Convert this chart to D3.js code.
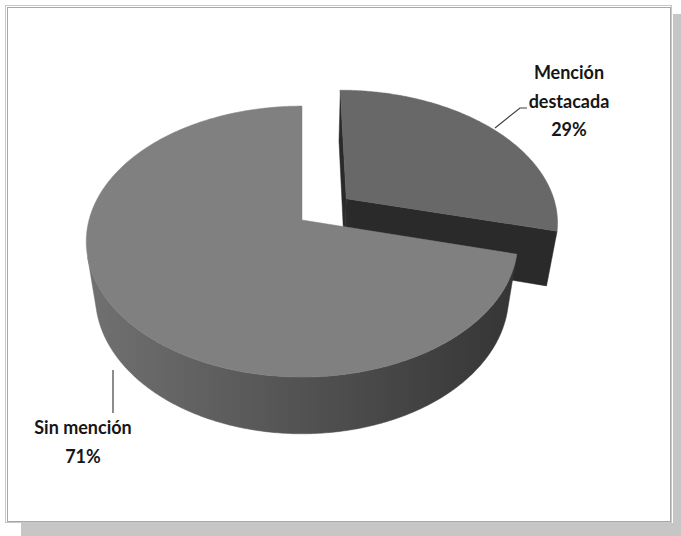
<!DOCTYPE html>
<html>
<head>
<meta charset="utf-8">
<script src="https://d3js.org/d3.v7.min.js"></script>
<style>
  body { margin: 0; background: #fff; }
  text { font-family: Lato, "Liberation Sans", sans-serif; font-weight: bold; fill: #161616; }
</style>
</head>
<body>
<svg id="chart" width="681" height="536"></svg>
<script>
// data
var categories = ["Mención destacada", "Sin mención"];
var values = [29, 71];
var percentLabels = ["29%", "71%"];
var labelLines = [["Mención", "destacada"], ["Sin mención"]];
var explodeBy = [0.27, 0];

var svg = d3.select("#chart");

// frame with shadow
svg.append("rect").attr("x", 21).attr("y", 523).attr("width", 660).attr("height", 13).attr("fill", "#c6c6c6");
svg.append("rect").attr("x", 673).attr("y", 14).attr("width", 8).attr("height", 522).attr("fill", "#c6c6c6");
svg.append("rect").attr("x", 5.5).attr("y", 5.5).attr("width", 666).attr("height", 517)
    .attr("fill", "#fff").attr("stroke", "#c8c8c8");
svg.append("rect").attr("x", 7.5).attr("y", 7.5).attr("width", 663).attr("height", 514)
    .attr("fill", "none").attr("stroke", "#a8a8a8");

// simple perspective camera for the 3d pie
var cx = 302, cy = 220, focal = 1050, dist = 4.93;
var sn = 0.62, cs = 0.785, thick = 0.34;

function proj(X, Y, Z) {
    var depth = dist - (Y * sn + Z * cs);
    var yc = Y * cs - Z * sn;
    return [cx + focal * X / depth, cy - focal * yc / depth];
}

var defs = svg.append("defs");
var g1 = defs.append("linearGradient").attr("id", "wallBig")
    .attr("gradientUnits", "userSpaceOnUse").attr("x1", 80).attr("x2", 515).attr("y1", 0).attr("y2", 0);
g1.append("stop").attr("offset", 0).attr("stop-color", "#727272");
g1.append("stop").attr("offset", 0.45).attr("stop-color", "#565656");
g1.append("stop").attr("offset", 1).attr("stop-color", "#353535");

var topColor = ["#686868", "#808080"];
var cutColor = ["#2a2a2a", "#3a3a3a"];
var wallColor = ["#2e2e2e", "url(#wallBig)"];

var pie = d3.pie().sort(null).value(d => d);
var arcs = pie(values);
var line = d3.line();

var camX = 0, camY = dist * sn, camZ = dist * cs;

arcs.forEach(function(d, i) {
    var mid = (d.startAngle + d.endAngle) / 2;
    d.dX = explodeBy[i] * Math.sin(mid);
    d.dZ = -explodeBy[i] * Math.cos(mid);
    d.i = i;
    d.zc = -Math.cos(mid) * 0.5 + d.dZ;
});

// far slices first
var order = arcs.slice().sort((a, b) => a.zc - b.zc);

var pieG = svg.append("g");

order.forEach(function(d) {
    var i = d.i;
    var rim = function(a, Y) { return proj(Math.sin(a) + d.dX, Y, -Math.cos(a) + d.dZ); };
    var angles = d3.range(d.startAngle, d.endAngle, 0.01).concat([d.endAngle]);
    var g = pieG.append("g");

    // cut faces
    [[d.startAngle, d.startAngle - Math.PI / 2], [d.endAngle, d.endAngle + Math.PI / 2]].forEach(function(e) {
        var nx = Math.sin(e[1]), nz = -Math.cos(e[1]);
        var vis = (camX - d.dX) * nx + (camZ - d.dZ) * nz;
        if (vis > 0 && explodeBy[i] > 0) {
            var pts = [proj(d.dX, 0, d.dZ), rim(e[0], 0), rim(e[0], -thick), proj(d.dX, -thick, d.dZ)];
            g.append("path").attr("d", line(pts) + "Z")
                .attr("fill", cutColor[i]).attr("stroke", cutColor[i]).attr("stroke-width", 0.5);
        }
    });

    // outer wall, only the part facing the camera
    var visA = angles.filter(function(a) {
        var px = Math.sin(a) + d.dX, pz = -Math.cos(a) + d.dZ;
        return (camX - px) * Math.sin(a) + (camZ - pz) * (-Math.cos(a)) > 0;
    });
    if (visA.length > 1) {
        var wall = visA.map(a => rim(a, 0)).concat(visA.slice().reverse().map(a => rim(a, -thick)));
        g.append("path").attr("d", line(wall) + "Z")
            .attr("fill", wallColor[i]).attr("stroke", wallColor[i]).attr("stroke-width", 0.5);
    }

    // top face
    var topPts = [proj(d.dX, 0, d.dZ)].concat(angles.map(a => rim(a, 0)));
    g.append("path").attr("d", line(topPts) + "Z")
        .attr("fill", topColor[i]).attr("stroke", topColor[i]).attr("stroke-width", 0.5);
});

// labels and leader lines
svg.append("path").attr("d", line([[527, 108], [520, 108], [495, 128]]))
    .attr("fill", "none").attr("stroke", "#404040").attr("stroke-width", 1.2);
svg.append("path").attr("d", line([[113, 370], [113, 413]]))
    .attr("fill", "none").attr("stroke", "#404040").attr("stroke-width", 1.2);

var labelPos = [[569, 79], [83, 434]];
labelLines.forEach(function(lines, i) {
    var t = svg.append("text").attr("text-anchor", "middle").style("font-size", "18px");
    lines.concat([percentLabels[i]]).forEach(function(s, k) {
        t.append("tspan").attr("x", labelPos[i][0]).attr("y", labelPos[i][1] + k * 28.5).text(s);
    });
});
</script>
</body>
</html>
